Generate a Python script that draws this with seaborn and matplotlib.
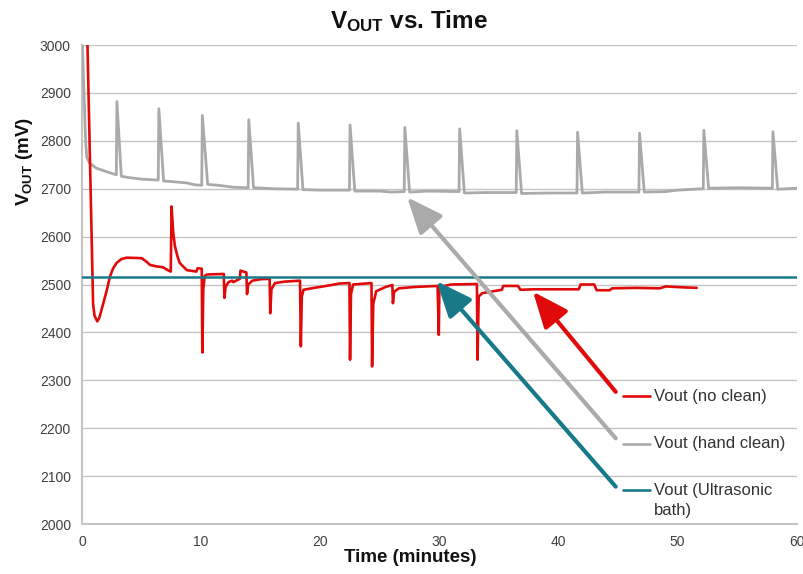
import matplotlib
matplotlib.use("Agg")
import matplotlib.pyplot as plt
import seaborn as sns
import pandas as pd

# ---------------- data ----------------
no_clean_t = [0.45, 0.93, 1.05, 1.28, 1.45, 1.79, 2.1, 2.35, 2.6, 2.9, 3.3, 3.75, 5.0, 5.4, 5.7,
              6.2, 6.8, 7.2, 7.45, 7.52, 7.65, 7.8, 8.0, 8.2, 8.8, 9.6, 9.7, 10.05, 10.1, 10.18,
              10.3, 10.5, 11.9, 11.95, 12.05, 12.3, 12.6, 12.7, 13.1, 13.25, 13.3, 13.8, 13.85,
              13.95, 14.3, 15.0, 15.75, 15.8, 15.9, 16.2, 17.0, 18.3, 18.37, 18.45, 18.6, 19.5,
              20.5, 21.6, 22.45, 22.5, 22.58, 22.75, 24.3, 24.35, 24.45, 24.7, 25.5, 26.05, 26.1,
              26.2, 26.6, 28.0, 29.85, 29.95, 30.0, 31.0, 33.15, 33.2, 33.3, 33.6, 35.25, 35.35,
              36.6, 36.8, 38.0, 41.7, 41.85, 43.0, 43.2, 44.3, 44.5, 46.5, 48.5, 49.0, 50.5, 51.6]
no_clean_v = [3010, 2460, 2435, 2423, 2430, 2461, 2490, 2517, 2533, 2545, 2553, 2556, 2555, 2548, 2541,
              2538, 2536, 2530, 2527, 2663, 2610, 2580, 2560, 2545, 2530, 2527, 2534, 2533, 2358, 2490,
              2518, 2521, 2522, 2472, 2495, 2505, 2508, 2505, 2510, 2512, 2529, 2525, 2480,
              2500, 2508, 2511, 2512, 2440, 2490, 2503, 2506, 2508, 2371, 2475, 2489, 2493,
              2497, 2502, 2503, 2343, 2480, 2500, 2503, 2329, 2460, 2486, 2495, 2499, 2461,
              2485, 2492, 2495, 2497, 2395, 2495, 2500, 2501, 2343, 2475, 2482, 2489, 2497,
              2497, 2489, 2490, 2490, 2500, 2500, 2488, 2488, 2492, 2493, 2492, 2496, 2494, 2493]

hand_t = [0.02, 0.3, 0.4, 0.65, 1.2, 2.0, 2.88, 2.93, 3.3, 4.0, 5.0, 6.4, 6.45, 6.85, 7.5, 8.8,
          9.5, 10.05, 10.1, 10.55, 11.5, 12.7, 13.95, 14.0, 14.4, 16.0, 18.1, 18.15, 18.55, 20.0,
          22.45, 22.5, 22.9, 25.0, 26.0, 27.05, 27.1, 27.5, 29.0, 31.65, 31.7, 32.1, 34.0, 36.45,
          36.5, 36.9, 39.0, 41.55, 41.6, 42.0, 44.0, 46.75, 46.8, 47.2, 49.0, 50.0, 52.15, 52.2,
          52.6, 55.0, 57.95, 58.0, 58.4, 60.0]
hand_v = [3010, 2800, 2765, 2753, 2743, 2736, 2729, 2882, 2726, 2723, 2720, 2718, 2867, 2716, 2715, 2712,
          2708, 2707, 2853, 2709, 2707, 2703, 2702, 2844, 2702, 2700, 2699, 2837, 2698, 2697,
          2697, 2833, 2695, 2695, 2693, 2694, 2828, 2693, 2695, 2694, 2825, 2691, 2692, 2692,
          2821, 2690, 2691, 2691, 2818, 2691, 2693, 2693, 2816, 2693, 2694, 2697, 2700, 2822,
          2701, 2702, 2701, 2819, 2699, 2701]

ultra_t = [0, 60]
ultra_v = [2515, 2515]

labels = ["Vout (no clean)", "Vout (hand clean)", "Vout (Ultrasonic", "bath)"]
x_ticks = [0, 10, 20, 30, 40, 50, 60]
y_ticks = list(range(2000, 3001, 100))

RED = "#e00a0a"
GRAY = "#aaaaaa"
TEAL = "#187a89"

# ---------------- style ----------------
sns.set_theme(style="white")
plt.rcParams["font.family"] = ["Liberation Sans", "DejaVu Sans"]
plt.rcParams["mathtext.fontset"] = "custom"
plt.rcParams["mathtext.rm"] = "Liberation Sans"
plt.rcParams["mathtext.bf"] = "Liberation Sans:bold"
plt.rcParams["mathtext.it"] = "Liberation Sans:italic"

fig = plt.figure(figsize=(8.04, 5.74), dpi=100)
ax = fig.add_axes([0.102, 0.0871, 0.889, 0.8345])

df_nc = pd.DataFrame({"t": no_clean_t, "v": no_clean_v})
df_hc = pd.DataFrame({"t": hand_t, "v": hand_v})
df_us = pd.DataFrame({"t": ultra_t, "v": ultra_v})

sns.lineplot(data=df_hc, x="t", y="v", ax=ax, color=GRAY, lw=2.0, estimator=None, sort=False, zorder=3)
sns.lineplot(data=df_nc, x="t", y="v", ax=ax, color=RED, lw=1.9, estimator=None, sort=False, zorder=4)
sns.lineplot(data=df_us, x="t", y="v", ax=ax, color=TEAL, lw=1.8, estimator=None, sort=False, zorder=5)

ax.set_xlim(0, 60)
ax.set_ylim(2000, 3000)
ax.set_xticks(x_ticks)
ax.set_yticks(y_ticks)
ax.grid(axis="y", color="#c4c4c4", lw=1.0)
ax.grid(axis="x", visible=False)
for s in ["top", "right"]:
    ax.spines[s].set_visible(False)
for s in ["left", "bottom"]:
    ax.spines[s].set_color("#c4c4c4")
    ax.spines[s].set_linewidth(1.5)
ax.tick_params(axis="both", which="both", direction="out", length=4, width=1.2,
               color="#c4c4c4", labelsize=10, labelcolor="#404040", pad=4)

ax.set_xlabel("Time (minutes)", fontsize=13.5, fontweight="bold", color="#111111")
ax.xaxis.set_label_coords(0.459, -0.052)
ax.set_ylabel(r"$\mathbf{V}_{\mathbf{OUT}}$ (mV)", fontsize=13.5, fontweight="bold", color="#111111")
ax.yaxis.set_label_coords(-0.066, 0.757)

fig.text(0.509, 0.963, r"$\mathbf{V}_{\mathbf{OUT}}$ vs. Time", fontsize=17.5, fontweight="bold",
         ha="center", va="center", color="#111111")

# ---------------- legend with arrows ----------------
leg_colors = [RED, GRAY, TEAL]
leg_y = [2267, 2168, 2070]
tips = [(37.86, 2485), (27.3, 2682), (29.76, 2507)]
tails_y = [2276, 2179, 2078]
for c, ly, tip, ty in zip(leg_colors, leg_y, tips, tails_y):
    ax.annotate("", xy=tip, xytext=(44.8, ty),
                arrowprops=dict(arrowstyle="-|>,head_length=1.0,head_width=0.42", color=c,
                                lw=3, mutation_scale=22, shrinkA=0, shrinkB=0), zorder=6)
    ax.plot([45.4, 47.7], [ly, ly], color=c, lw=1.9, zorder=6, clip_on=False)

for lab, ly in zip(labels[:3], leg_y):
    ax.text(48.0, ly, lab, fontsize=12, color="#333333", va="center", ha="left")
ax.text(48.0, leg_y[2] - 42, labels[3], fontsize=12, color="#333333", va="center", ha="left")

fig.savefig("out.png", dpi=100)
